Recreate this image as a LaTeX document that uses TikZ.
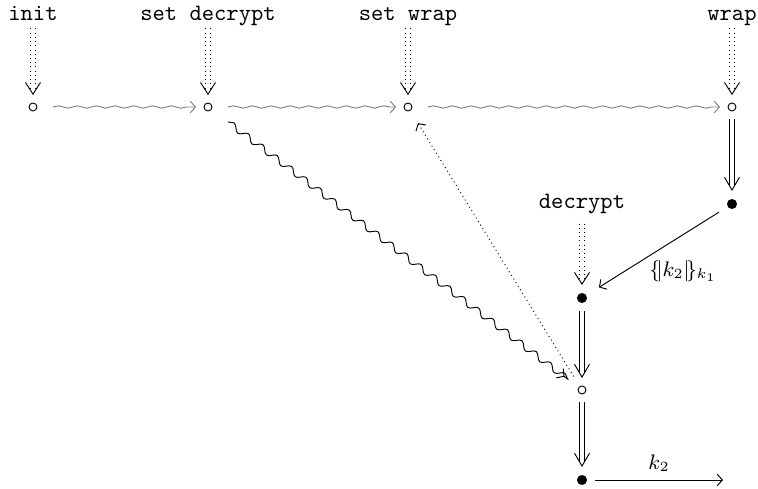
\documentclass[tikz,border=0pt]{standalone}
\usepackage{amsmath,amssymb}
\usetikzlibrary{arrows.meta,decorations.pathmorphing,decorations.markings}

\begin{document}
\begin{tikzpicture}[x=0.015cm, y=-0.015cm, >={Straight Barb[length=2.2pt,width=5pt]}, font=\ttfamily]
        \tikzset{
          opn/.style ={draw, circle, inner sep=0pt, minimum size=3.4pt, outer sep=3.4pt},
          fil/.style ={fill, circle, inner sep=0pt, minimum size=4.3pt, outer sep=3.4pt},
          lbl/.style ={anchor=base, inner sep=3pt, text depth=0pt},
          dots/.style={dash pattern=on 0.4pt off 1.4pt},
          tipV/.style={postaction={decorate, decoration={markings,
                       mark=at position 1 with {\arrow{Straight Barb[length=#1,width=6.4pt]}}}}},
          dbl/.style ={postaction={draw, shorten >=2.5pt, transform canvas={xshift=0.9pt}},
                       postaction={draw, shorten >=2.5pt, transform canvas={xshift=-0.9pt}},
                       tipV=5.5pt},
          call/.style={postaction={draw, dots, shorten >=2pt, transform canvas={xshift=0.9pt}},
                       postaction={draw, dots, shorten >=2pt, transform canvas={xshift=-0.9pt}},
                       tipV=5pt},
          seq/.style ={gray, ->, decorate,
                       decoration={snake, amplitude=0.5pt, segment length=8pt, post length=2pt}}
        }
        \useasboundingbox (0,0) rectangle (758,489);
        %% --- Aufrufe (y=107) ---
        \node[lbl] (tInit)    at (33, 21) {init};
        \node[lbl] (tSetDec)  at (208,21) {set decrypt};
        \node[lbl] (tSetWrap) at (408,21) {set wrap};
        \node[lbl] (tWrap)    at (732,21) {wrap};
        \node[opn] (a1) at (33, 107) {};
        \node[opn] (a2) at (208,107) {};
        \node[opn] (a3) at (408,107) {};
        \node[opn] (a4) at (732,107) {};
        \path[call] (tInit)--(a1);
        \path[call] (tSetDec)--(a2);
        \path[call] (tSetWrap)--(a3);
        \path[call] (tWrap)--(a4);
        \draw[seq] ([xshift=3.4pt]a1.east)--(a2);
        \draw[seq] ([xshift=3.4pt]a2.east)--(a3);
        \draw[seq] ([xshift=3.4pt]a3.east)--(a4);
        %% --- wrap / decrypt ---
        \node[fil] (w2) at (732,204) {};
        \node[lbl] (tDec) at (582,209) {decrypt};
        \node[fil] (d1) at (582,298) {};
        \node[opn] (d2) at (582,390) {};
        \node[fil] (d3) at (582,480) {};
        \coordinate (out) at (723,480);
        \path[dbl] (a4)--(w2);
        \path[call, shorten <=3pt] (tDec)--(d1);
        \draw[->, shorten <=1pt, shorten >=3pt] (w2)-- (d1);
        \node[font=\small] (lk) at (683,271) {$\{\!|k_2|\!\}_{k_1}$};
        \path[dbl] (d1)--(d2);
        \path[dbl] (d2)--(d3);
        \draw[->] (d3)-- node[above, font=\small]{$k_2$} (out);
        %% --- Abhaengigkeiten ---
        \draw[->, decorate, shorten >=4.3pt,
              decoration={snake, amplitude=1.3pt, segment length=7.7pt, post length=2pt}]
              ([shift={(-37:5.5pt)}]a2.-37)--(d2);
        \draw[->, dots, shorten <=1.7pt, shorten >=3pt] (d2)--(a3);
    \end{tikzpicture}
\end{document}
